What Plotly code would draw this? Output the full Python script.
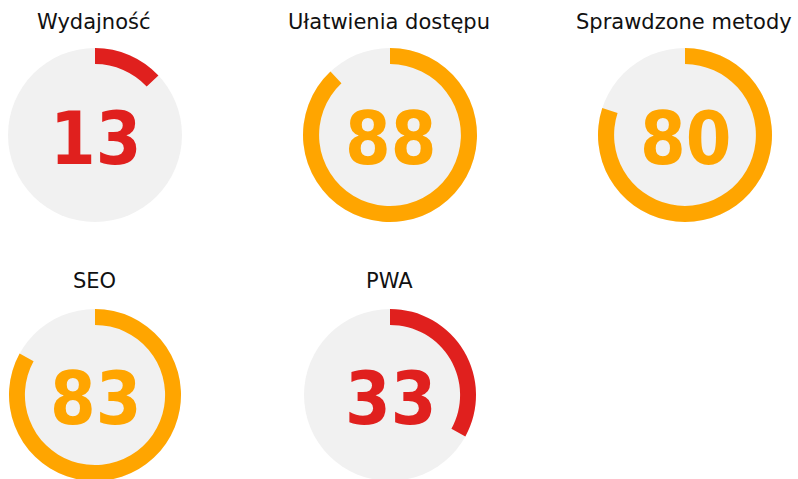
import plotly.graph_objects as go

categories = ["Wydajność", "Ułatwienia dostępu", "Sprawdzone metody", "SEO", "PWA"]
scores = [13, 88, 80, 83, 33]

RED = "#e0201e"
ORANGE = "#ffa500"
GRAY = "#f1f1f1"
W, H = 798, 481  # window is 798x479; bottom row gauges run slightly past the edge

# pixel boxes for each gauge (left, right, top, bottom)
boxes = [
    (8, 182, 48, 222),
    (303, 477, 48, 222),
    (598, 772, 48, 222),
    (8, 182, 309, 481),
    (303, 477, 309, 481),
]
title_y = [22, 22, 22, 281, 281]

def color_for(s):
    return RED if s < 50 else ORANGE

def px(x):
    return x / W

def py(y):
    return min(1.0, max(0.0, 1 - y / H))

fig = go.Figure()
annotations = []
for cat, s, (l, r, t, b), ty in zip(categories, scores, boxes, title_y):
    dom_x = [px(l), px(r)]
    dom_y = [py(b), py(t)]
    c = color_for(s)
    fig.add_trace(go.Pie(
        values=[1], domain=dict(x=dom_x, y=dom_y), sort=False,
        marker=dict(colors=[GRAY], line=dict(width=0)),
        textinfo="none", hoverinfo="skip", showlegend=False,
    ))
    fig.add_trace(go.Pie(
        values=[s, 100 - s], domain=dict(x=dom_x, y=dom_y), hole=0.815,
        sort=False, direction="clockwise", rotation=0,
        marker=dict(colors=[c, "rgba(0,0,0,0)"], line=dict(width=0)),
        textinfo="none", hoverinfo="skip", showlegend=False, name=cat,
    ))
    cxp = (l + r) / 2
    cyp = (t + b) / 2
    annotations.append(dict(
        x=px(cxp), y=py(cyp + 3), xref="paper", yref="paper", text=f"<b>{s}</b>",
        showarrow=False, xanchor="center", yanchor="middle",
        font=dict(family="DejaVu Sans Condensed, DejaVu Sans", size=73, color=c),
    ))
    annotations.append(dict(
        x=px(cxp - 1), y=py(ty), xref="paper", yref="paper", text=cat,
        showarrow=False, xanchor="center", yanchor="middle",
        font=dict(family="DejaVu Sans", size=21, color="#111111"),
    ))

fig.update_layout(
    width=W, height=H, margin=dict(l=0, r=0, t=0, b=0),
    paper_bgcolor="white", plot_bgcolor="white",
    annotations=annotations, showlegend=False,
)
fig.write_html(
    "out.html",
    config={"displayModeBar": False},
    post_script="document.body.style.margin='0';document.body.style.overflow='hidden';",
)
